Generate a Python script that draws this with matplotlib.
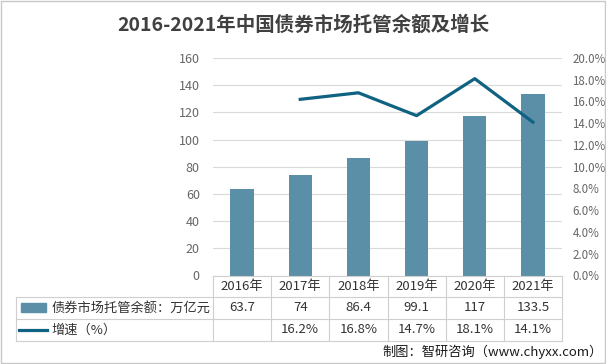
import matplotlib
matplotlib.use("Agg")
import matplotlib.pyplot as plt
from matplotlib.patches import Rectangle
from matplotlib.lines import Line2D
import matplotlib.transforms as mtransforms

plt.rcParams['font.family'] = ['Noto Sans CJK SC', 'DejaVu Sans']

# --------------------
# DATA
# --------------------
years = ['2016年', '2017年', '2018年', '2019年', '2020年', '2021年']
balance = [63.7, 74, 86.4, 99.1, 117, 133.5]          # 万亿元
balance_labels = ['63.7', '74', '86.4', '99.1', '117', '133.5']
growth_years = [1, 2, 3, 4, 5]                         # index into years
growth = [16.2, 16.8, 14.7, 18.1, 14.1]                # %

title = '2016-2021年中国债券市场托管余额及增长'
bar_name = '债券市场托管余额：万亿元'
line_name = '增速（%）'
source = '制图：智研咨询（www.chyxx.com）'

BAR_COLOR = '#5b8fa7'
LINE_COLOR = '#0f6282'
GRID = '#d9d9d9'
TICK = '#666666'
TXT = '#333333'

# --------------------
# FIGURE
# --------------------
fig = plt.figure(figsize=(6.06, 3.64), dpi=100)
ax = fig.add_axes([213 / 606, 1 - 275.5 / 364, 349 / 606, 217.5 / 364])
x = list(range(len(years)))

ax.bar(x, balance, width=0.4, color=BAR_COLOR, zorder=2)
ax.set_xlim(-0.5, len(years) - 0.5)
ax.set_ylim(0, 160)
ax.set_yticks(range(0, 161, 20))
ax.set_xticks([])
ax.tick_params(axis='y', length=0, pad=9.5, labelsize=9, labelcolor=TICK)
ax.grid(axis='y', color=GRID, lw=0.8, zorder=0)
for s in ax.spines.values():
    s.set_visible(False)

ax2 = ax.twinx()
ax2.plot(growth_years, growth, color=LINE_COLOR, lw=2.3, zorder=3)
ax2.set_ylim(0, 20)
ax2.set_yticks(range(0, 21, 2))
ax2.set_yticklabels([f'{v:.1f}%' for v in range(0, 21, 2)])
ax2.tick_params(axis='y', length=0, pad=7.5, labelsize=8.3, labelcolor=TICK)
for s in ax2.spines.values():
    s.set_visible(False)

# --------------------
# DATA TABLE UNDER THE AXIS
# --------------------
blend = mtransforms.blended_transform_factory(ax.transData, ax.transAxes)
row_lines = [0.0, -0.0989, -0.2, -0.301]
row_mid = [-0.0506, -0.149, -0.25]
left_edge = -0.5645  # axes fraction where the legend column starts
lkw = dict(color='#cfcfcf', lw=0.8, clip_on=False)

# horizontal lines
ax.add_line(Line2D([0, 1], [row_lines[0]] * 2, transform=ax.transAxes, **lkw))
for y in row_lines[1:]:
    ax.add_line(Line2D([left_edge, 1], [y, y], transform=ax.transAxes, **lkw))
# vertical lines
for i in range(len(years) + 1):
    ax.add_line(Line2D([i - 0.5, i - 0.5], [row_lines[0], row_lines[-1]],
                       transform=blend, **lkw))
ax.add_line(Line2D([left_edge, left_edge], [row_lines[1], row_lines[-1]],
                   transform=ax.transAxes, **lkw))

for i, yr in enumerate(years):
    ax.text(i, row_mid[0], yr, transform=blend, ha='center', va='center',
            fontsize=9.5, color=TXT)
    ax.text(i, row_mid[1], balance_labels[i], transform=blend, ha='center',
            va='center', fontsize=9.5, color=TXT)
for i, g in zip(growth_years, growth):
    ax.text(i, row_mid[2], f'{g}%', transform=blend, ha='center',
            va='center', fontsize=9.5, color=TXT)

# legend keys inside the table
ax.add_patch(Rectangle((-0.551, row_mid[1] - 0.021), 0.072, 0.042,
                       transform=ax.transAxes, color=BAR_COLOR, clip_on=False))
ax.add_line(Line2D([-0.557, -0.477], [row_mid[2]] * 2, transform=ax.transAxes,
                   color=LINE_COLOR, lw=2.3, clip_on=False))
ax.text(-0.462, row_mid[1], bar_name, transform=ax.transAxes, ha='left',
        va='center', fontsize=9.5, color=TXT)
ax.text(-0.462, row_mid[2], line_name, transform=ax.transAxes, ha='left',
        va='center', fontsize=9.5, color=TXT)

# --------------------
# TITLE, SOURCE, FRAME
# --------------------
fig.text(0.5, 1 - 25 / 364, title, ha='center', va='center', fontsize=14,
         fontweight='bold', color='#404040')
fig.text(603 / 606, 1 - 352 / 364, source, ha='right', va='center',
         fontsize=9.5, color='#1a1a1a')
fig.add_artist(Rectangle((0.001, 0.002), 0.997, 0.996, transform=fig.transFigure,
                         fill=False, edgecolor='#c8c8c8', lw=1))

fig.savefig('out.png', dpi=100)
